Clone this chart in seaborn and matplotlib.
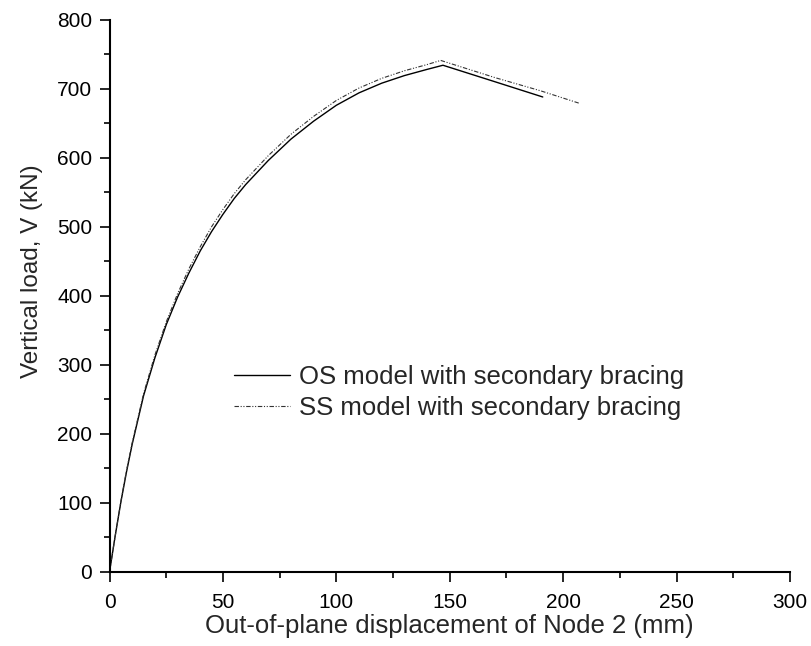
import numpy as np
import pandas as pd
import seaborn as sns
import matplotlib.pyplot as plt
from matplotlib.ticker import MultipleLocator

# Load-displacement curves
os_disp = [0, 2.5, 5, 7.5, 10, 15, 20, 25, 30, 35, 40, 45, 50, 55, 60, 70, 80,
           90, 100, 110, 120, 130, 140, 147, 170, 191]
os_load = [0, 52, 101, 145, 185, 255, 310, 358, 398, 433, 465, 493, 518, 541,
           561, 596, 627, 653, 676, 694, 708, 719, 728, 734, 710, 688]

ss_disp = [0, 2.5, 5, 7.5, 10, 15, 20, 25, 30, 35, 40, 45, 50, 55, 60, 70, 80,
           90, 100, 110, 120, 130, 140, 146, 170, 190, 207]
ss_load = [0, 52, 102, 147, 187, 258, 314, 362, 403, 439, 471, 500, 525, 548,
           568, 603, 634, 660, 683, 701, 715, 726, 735, 741, 716, 697, 679]

labels = ["OS model with secondary bracing", "SS model with secondary bracing"]


def main():
    sns.set_style("ticks")
    plt.rcParams['font.family'] = ['Liberation Sans', 'DejaVu Sans']

    fig = plt.figure(figsize=(8.12, 6.46), dpi=100)
    ax = fig.add_axes([0.1349, 0.115, 0.8380, 0.8545])

    sns.lineplot(x=os_disp, y=os_load, ax=ax, color='black', linewidth=1.0,
                 sort=False, estimator=None, label=labels[0])
    sns.lineplot(x=ss_disp, y=ss_load, ax=ax, color='#333333', linewidth=0.8,
                 linestyle=(0, (4, 1.5, 1, 1.5, 1, 1.5)),
                 sort=False, estimator=None, label=labels[1])

    ax.set_xlim(0, 300)
    ax.set_ylim(0, 800)
    ax.xaxis.set_major_locator(MultipleLocator(50))
    ax.xaxis.set_minor_locator(MultipleLocator(25))
    ax.yaxis.set_major_locator(MultipleLocator(100))
    ax.yaxis.set_minor_locator(MultipleLocator(50))

    for side in ['top', 'right']:
        ax.spines[side].set_visible(False)
    for side in ['left', 'bottom']:
        ax.spines[side].set_linewidth(1.5)
        ax.spines[side].set_color('black')

    ax.tick_params(which='major', direction='out', length=7.5, width=1.2,
                   labelsize=15, colors='black')
    ax.tick_params(axis='x', which='major', pad=8)
    ax.tick_params(axis='y', which='major', pad=5)
    ax.tick_params(which='minor', direction='out', length=4.5, width=1.2,
                   colors='black')

    ax.set_xlabel("Out-of-plane displacement of Node 2 (mm)", fontsize=18.5,
                  labelpad=1)
    ax.set_ylabel("Vertical load, V (kN)", fontsize=17.5)
    ax.yaxis.set_label_coords(-0.098, 0.545)

    ax.legend(loc='center left', bbox_to_anchor=(0.1825, 0.3255), frameon=False,
              fontsize=18.5, handlelength=2.2, handletextpad=0.35,
              labelspacing=0.27, borderaxespad=0, borderpad=0)

    fig.savefig("out.png", dpi=100)


if __name__ == "__main__":
    main()
